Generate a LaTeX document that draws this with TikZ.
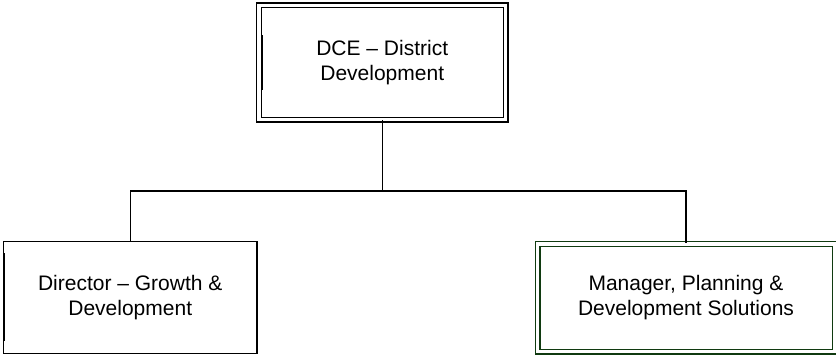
\documentclass[tikz,border=0pt]{standalone}
\usepackage{fontspec}
\setmainfont{Liberation Sans}
\usetikzlibrary{positioning,calc}
\definecolor{boxgreen}{RGB}{16,58,16}

\begin{document}
\begin{tikzpicture}[x=1pt, y=-1pt,
    box/.style={draw, line width=1.6pt, align=center, inner sep=0pt, font=\fontsize{21}{25}\selectfont},
    dbox/.style={box, line width=1.3pt, double=white, double distance=3.4pt},
    bar/.style={line width=2pt},
    link/.style={line width=1.5pt}
]
\useasboundingbox (0,0) rectangle (836,355);

\node[dbox, minimum width=246.5pt, minimum height=114.25pt] (dce) at (382.25,62.4) {DCE -- District\\Development};
\node[box, minimum width=253.5pt, minimum height=112pt] (director) at (130.25,297.5) {Director -- Growth \&\\Development};
\node[dbox, draw=boxgreen, minimum width=297pt, minimum height=107.75pt] (manager) at (686,297.9) {Manager, Planning \&\\Development Solutions};

% left edge marks
\draw[bar] ($(dce.west)+(4,-27)$) -- ($(dce.west)+(4,28)$);
\draw[bar] ($(director.west)+(1.5,-44)$) -- ($(director.west)+(1.5,44)$);
\draw[bar, boxgreen] ($(manager.west)+(3.5,-36)$) -- ($(manager.west)+(3.5,32)$);

\coordinate (bus) at (382.25,191);
\draw[link] (dce.south) -- (bus);
\draw[link] (director.north) |- (bus) -| (manager.north);
\end{tikzpicture}
\end{document}
